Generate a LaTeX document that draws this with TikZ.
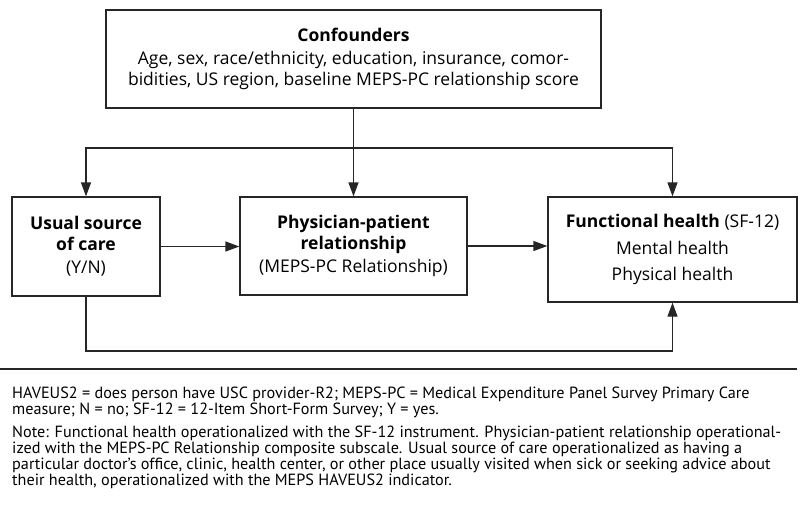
\documentclass[tikz,border=0pt]{standalone}
\usepackage{fontspec}
\setmainfont{Open Sans}
\newfontfamily\notefont{PT Sans}
\usetikzlibrary{arrows.meta}
\tikzstyle{box}=[draw=black!85,line width=1.3pt,align=center,inner sep=0pt,font=\fontsize{17.5}{21}\selectfont]
\tikzstyle{link}=[draw=black!85,line width=1.3pt,-{Triangle[length=14pt,width=10pt]}]
\tikzstyle{plain}=[draw=black!85,line width=1.3pt]

\begin{document}
\begin{tikzpicture}[x=1pt,y=-1pt]
				\useasboundingbox (0,0) rectangle (803,523);
				% boxes
				\node[box,minimum width=495pt,minimum height=98pt] (conf) at (353.5,59)
					{\textbf{Confounders}\\[2pt]
					Age, sex, race/ethnicity, education, insurance, comor-\\
					bidities, US region, baseline MEPS-PC relationship score};
				\node[box,minimum width=148pt,minimum height=99pt] (usc) at (86,246.5)
					{\textbf{Usual source}\\\textbf{of care}\\[2pt](Y/N)};
				\node[box,minimum width=227pt,minimum height=98pt] (ppr) at (353.5,246)
					{\textbf{Physician-patient}\\\textbf{relationship}\\[2pt](MEPS-PC Relationship)};
				\node[box,minimum width=249pt,minimum height=105pt] (fh) at (672.5,249.5)
					{\textbf{Functional health} (SF-12)\\[5.5pt]Mental health\\[5.5pt]Physical health};
				% confounders fork
				\coordinate (fork) at (conf.south |- 0,148);
				\draw[link] (conf.south) -- (ppr.north);
				\draw[link] (fork) -| (usc.north);
				\draw[link] (fork) -| (fh.north);
				% main path
				\draw[link] (usc.east) -- (usc.east -| ppr.west);
				\draw[link] (ppr.east) -- (ppr.east -| fh.west);
				\coordinate (low) at (usc.south |- 0,351);
				\draw[link] (usc.south) -- (low) -| (fh.south);
				% notes
				\coordinate (rulel) at (0,369);
				\coordinate (ruler) at (797,369);
				\draw[plain,line width=1.1pt] (rulel) -- (ruler);
				\node[anchor=north west,inner sep=0pt,align=left,font=\notefont\fontsize{16.2}{16.2}\selectfont] (abbr) at (12,387)
					{HAVEUS2 = does person have USC provider-R2; MEPS-PC = Medical Expenditure Panel Survey Primary Care\\
					measure; N = no; SF-12 = 12-Item Short-Form Survey; Y = yes.\\[6pt]
					Note: Functional health operationalized with the SF-12 instrument. Physician-patient relationship operational-\\
					ized with the MEPS-PC Relationship composite subscale. Usual source of care operationalized as having a\\
					particular doctor’s office, clinic, health center, or other place usually visited when sick or seeking advice about\\
					their health, operationalized with the MEPS HAVEUS2 indicator.};
			\end{tikzpicture}
\end{document}
